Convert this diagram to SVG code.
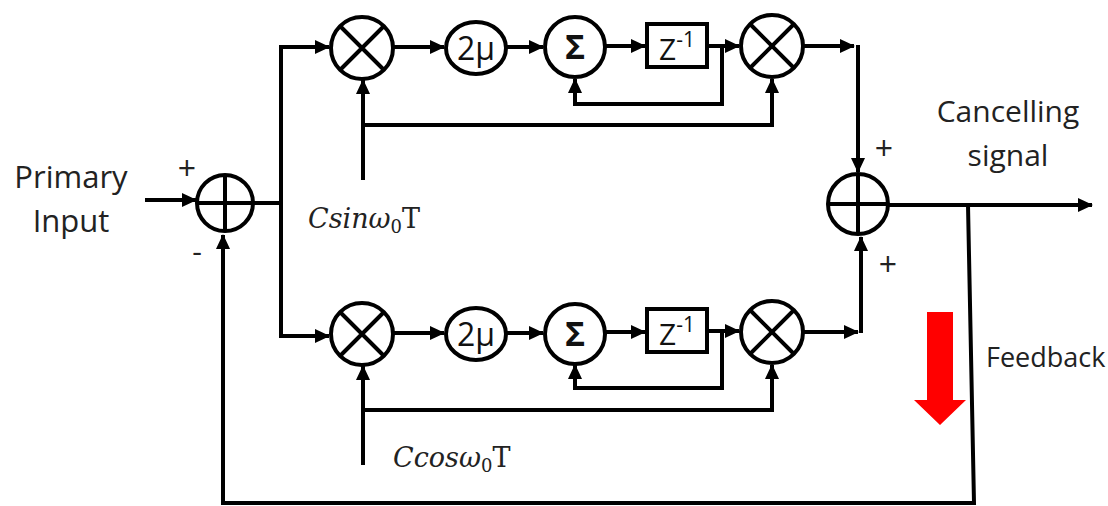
<svg xmlns="http://www.w3.org/2000/svg" width="1108" height="506" viewBox="0 0 1108 506">
<style>
.ln{fill:none;stroke:#000;stroke-width:4}
.sh{fill:#fff;stroke:#000;stroke-width:4}
.lbl{font-family:"Open Sans","Liberation Sans",sans-serif;fill:#222}
.math{font-family:"DejaVu Serif","Liberation Serif",serif;font-style:italic;fill:#222}
.in{font-family:"Open Sans","Liberation Sans",sans-serif;fill:#111;text-anchor:middle}
</style>
<defs>
<marker id="ah" markerUnits="userSpaceOnUse" markerWidth="16" markerHeight="14" refX="14" refY="7" orient="auto">
<path d="M0,0 L15,7 L0,14 z" fill="#000"/>
</marker>
</defs>
<rect width="1108" height="506" fill="#fff"/>
<g id="connectors">
<path class="ln" d="M145,200 H196" marker-end="url(#ah)"/>
<path class="ln" d="M254,203 H281"/>
<path class="ln" d="M281,203 V47 H329" marker-end="url(#ah)"/>
<path class="ln" d="M281,203 V336 H329" marker-end="url(#ah)"/>
<path class="ln" d="M393,47 H444" marker-end="url(#ah)"/>
<path class="ln" d="M506,47 H543" marker-end="url(#ah)"/>
<path class="ln" d="M605,46 H645" marker-end="url(#ah)"/>
<path class="ln" d="M707,46 H739" marker-end="url(#ah)"/>
<path class="ln" d="M722,46 V104 H575 V79" marker-end="url(#ah)"/>
<path class="ln" d="M363,180 V80" marker-end="url(#ah)"/>
<path class="ln" d="M363,125 H772 V79" marker-end="url(#ah)"/>
<path class="ln" d="M803,46 H854" marker-end="url(#ah)"/>
<path class="ln" d="M858,45 V172" marker-end="url(#ah)"/>
<path class="ln" d="M888,205 H1092" marker-end="url(#ah)"/>
<path class="ln" d="M968,205 L974,503 H223 V235" marker-end="url(#ah)"/>
<path class="ln" d="M393,333 H444" marker-end="url(#ah)"/>
<path class="ln" d="M506,333 H543" marker-end="url(#ah)"/>
<path class="ln" d="M605,332 H645" marker-end="url(#ah)"/>
<path class="ln" d="M707,331 H739" marker-end="url(#ah)"/>
<path class="ln" d="M722,331 V388 H575 V365" marker-end="url(#ah)"/>
<path class="ln" d="M363,465 V366" marker-end="url(#ah)"/>
<path class="ln" d="M363,410 H772 V365" marker-end="url(#ah)"/>
<path class="ln" d="M803,332 H858" marker-end="url(#ah)"/>
<path class="ln" d="M861,333 V237" marker-end="url(#ah)"/>
</g>
<g id="sum-in">
<circle class="sh" cx="225" cy="203" r="28"/>
<path class="ln" d="M197,203 H253 M225,175 V231"/>
</g>
<g id="mult-top-1">
<circle class="sh" cx="362" cy="48" r="31"/>
<path class="ln" d="M340,26 L384,70 M384,26 L340,70"/>
</g>
<g id="mu-top">
<ellipse class="sh" cx="476" cy="48" rx="30" ry="26"/>
<text class="in" x="476" y="60" font-size="32">2μ</text>
</g>
<g id="sigma-top">
<circle class="sh" cx="575" cy="47" r="30"/>
<text class="in" x="575" y="59" font-size="34" font-weight="bold">Σ</text>
</g>
<g id="delay-top">
<rect class="sh" x="647" y="24" width="60" height="43"/>
<text class="in" x="677" y="60" font-size="30">Z<tspan font-size="21" dy="-13">-1</tspan></text>
</g>
<g id="mult-top-2">
<circle class="sh" cx="772" cy="46" r="31"/>
<path class="ln" d="M750,24 L794,68 M794,24 L750,68"/>
</g>
<g id="mult-bot-1">
<circle class="sh" cx="362" cy="334" r="31"/>
<path class="ln" d="M340,312 L384,356 M384,312 L340,356"/>
</g>
<g id="mu-bot">
<ellipse class="sh" cx="476" cy="334" rx="30" ry="26"/>
<text class="in" x="476" y="346" font-size="32">2μ</text>
</g>
<g id="sigma-bot">
<circle class="sh" cx="575" cy="334" r="30"/>
<text class="in" x="575" y="346" font-size="34" font-weight="bold">Σ</text>
</g>
<g id="delay-bot">
<rect class="sh" x="647" y="309" width="60" height="43"/>
<text class="in" x="677" y="345" font-size="30">Z<tspan font-size="21" dy="-13">-1</tspan></text>
</g>
<g id="mult-bot-2">
<circle class="sh" cx="772" cy="332" r="31"/>
<path class="ln" d="M750,310 L794,354 M794,310 L750,354"/>
</g>
<g id="sum-out">
<circle class="sh" cx="858" cy="204" r="30"/>
<path class="ln" d="M828,204 H888 M858,174 V234"/>
</g>
<g id="labels">
<text class="lbl" x="71" y="188" font-size="31" text-anchor="middle">Primary</text>
<text class="lbl" x="71" y="232" font-size="31" text-anchor="middle">Input</text>
<text class="lbl" x="187" y="180" font-size="32" text-anchor="middle">+</text>
<text class="lbl" x="197" y="262" font-size="30" text-anchor="middle">-</text>
<text class="lbl" x="884" y="160" font-size="32" text-anchor="middle">+</text>
<text class="lbl" x="888" y="276" font-size="32" text-anchor="middle">+</text>
<text class="lbl" x="1008" y="122" font-size="30" text-anchor="middle">Cancelling</text>
<text class="lbl" x="1008" y="166" font-size="30" text-anchor="middle">signal</text>
<text class="lbl" x="986" y="367" font-size="27">Feedback</text>
<text class="math" x="308" y="228" font-size="27">Csinω<tspan font-size="18" dy="5" font-style="normal">0</tspan><tspan dy="-5" font-style="normal">T</tspan></text>
<text class="math" x="393" y="467" font-size="27">Ccosω<tspan font-size="18" dy="5" font-style="normal">0</tspan><tspan dy="-5" font-style="normal">T</tspan></text>
</g>
<g id="feedback-arrow">
<polygon points="927,312 953,312 953,400 966,400 940,425 914,400 927,400" fill="#f00"/>
</g>
</svg>
